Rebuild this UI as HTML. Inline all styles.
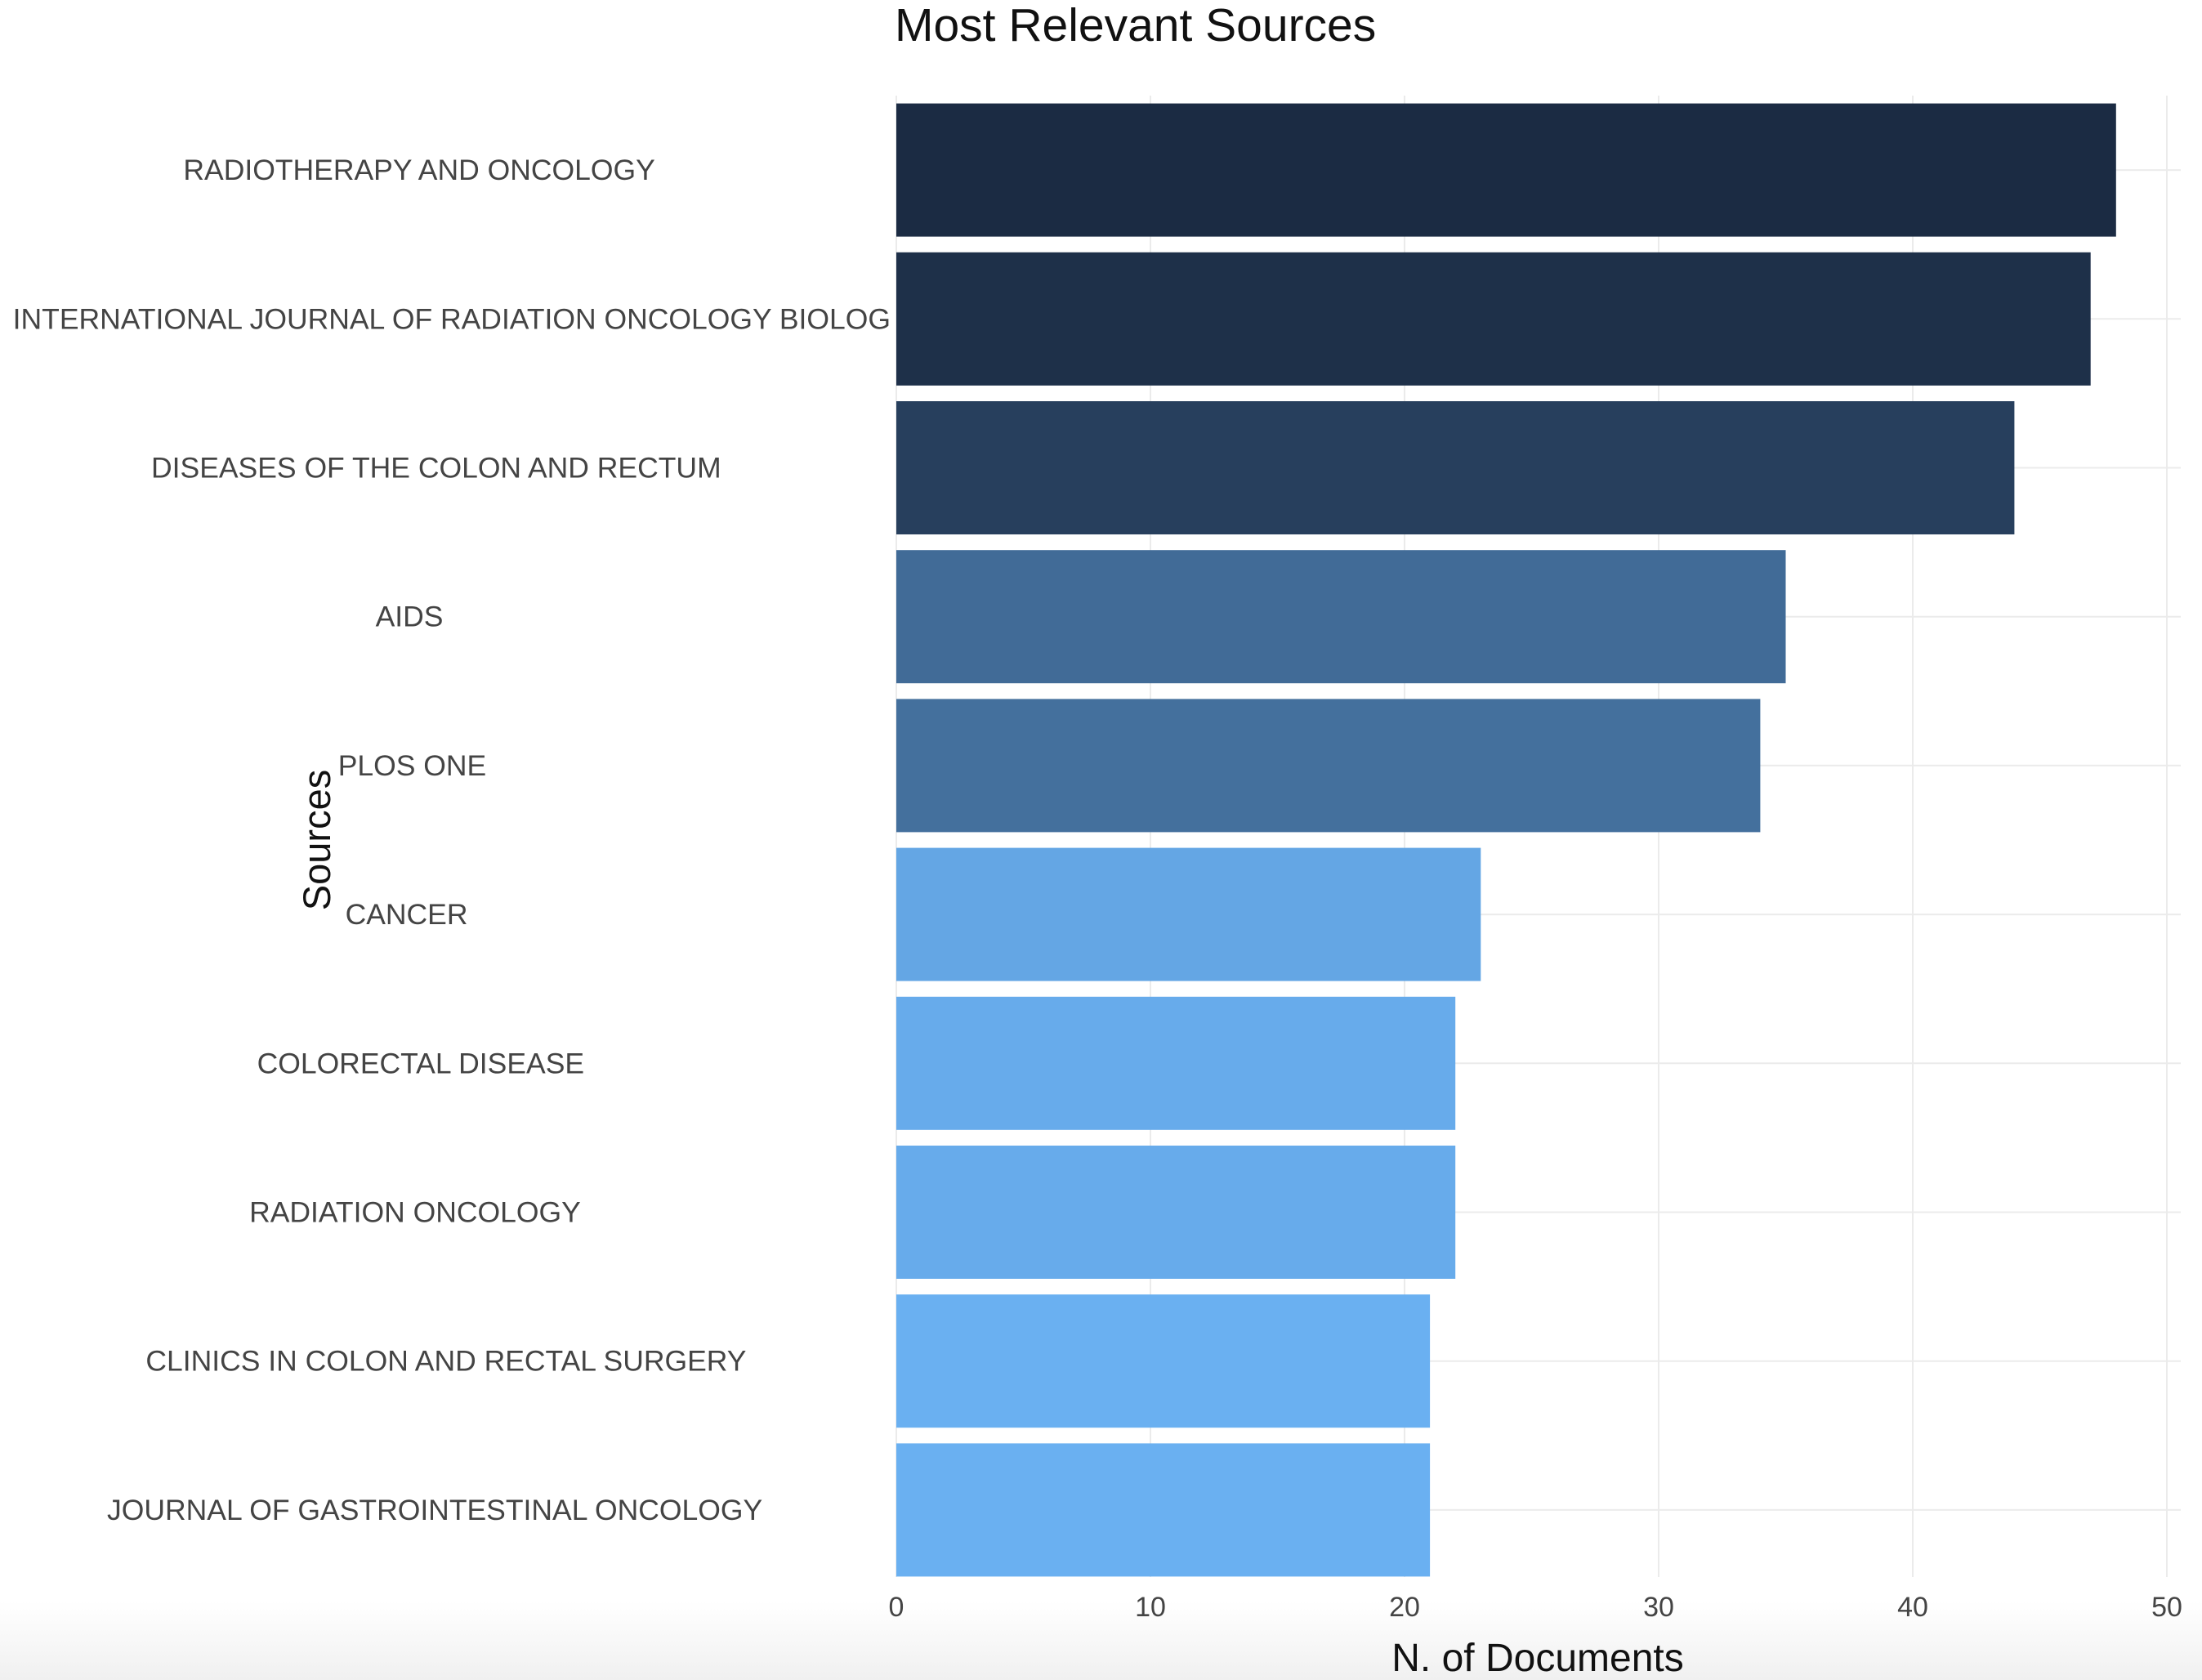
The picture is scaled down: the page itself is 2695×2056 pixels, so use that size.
<!DOCTYPE html>
<html><head><meta charset="utf-8"><style>
html,body{margin:0;padding:0;background:#fff;width:2695px;height:2056px;overflow:hidden}
svg text{font-family:"Liberation Sans",sans-serif}
</style></head><body>
<svg id="chart" width="2695" height="2056" viewBox="0 0 2695 2056" xmlns="http://www.w3.org/2000/svg">
<defs><linearGradient id="btm" x1="0" y1="0" x2="0" y2="1"><stop offset="0" stop-color="#fff"/><stop offset="1" stop-color="#f0f0f0"/></linearGradient></defs>
<rect x="0" y="1960" width="2695" height="96" fill="url(#btm)"/>
<text x="1095" y="50" font-size="57" fill="#111">Most Relevant Sources</text>
<g id="grid"></g><g id="bars"></g><g id="ylabels"></g><g id="xticks"></g>
<text x="1882" y="2045" font-size="48" text-anchor="middle" fill="#111">N. of Documents</text>
<text transform="translate(404,1028) rotate(-90)" font-size="47" text-anchor="middle" fill="#111">Sources</text>
</svg>
<script>
const categories=["RADIOTHERAPY AND ONCOLOGY","INTERNATIONAL JOURNAL OF RADIATION ONCOLOGY BIOLOG","DISEASES OF THE COLON AND RECTUM","AIDS","PLOS ONE","CANCER","COLORECTAL DISEASE","RADIATION ONCOLOGY","CLINICS IN COLON AND RECTAL SURGERY","JOURNAL OF GASTROINTESTINAL ONCOLOGY"];
const values=[48,47,44,35,34,23,22,22,21,21];
const xTicks=[0,10,20,30,40,50];
const labelCenters=[297,320,309,290,292,288,298,294,316,308];
const NS="http://www.w3.org/2000/svg";
const x0=1097,x50=2652,plotTop=117,rowH=182.2,barH=163;
function xs(v){return x0+(x50-x0)*v/50;}
function ys(i){return plotTop+i*rowH+rowH/2;}
function mk(t,a,p){const e=document.createElementNS(NS,t);for(const k in a)e.setAttribute(k,a[k]);p.appendChild(e);return e;}
const vmin=Math.min(...values),vmax=Math.max(...values);
const c1=[0x6a,0xb0,0xf1],c2=[0x1b,0x2b,0x43];
function col(v){const t=(v-vmin)/(vmax-vmin||1);return "rgb("+c1.map((c,i)=>Math.round(c+(c2[i]-c)*t)).join(",")+")";}
const grid=document.getElementById('grid'),bars=document.getElementById('bars'),yl=document.getElementById('ylabels'),xt=document.getElementById('xticks');
xTicks.forEach(t=>{
 const l=mk('line',{x1:xs(t),x2:xs(t),y1:117,y2:1930,stroke:'#ebebeb','stroke-width':2},grid);
 
 
 const tx=mk('text',{x:xs(t),y:1978,'font-size':34,'text-anchor':'middle',fill:'#444'},xt);
 tx.textContent=t;
 
 
});
categories.forEach((c,i)=>{
 const g=mk('line',{x1:x0,x2:2669,y1:ys(i),y2:ys(i),stroke:'#ebebeb','stroke-width':2},grid);
 
 
 const r=mk('rect',{x:x0,y:ys(i)-barH/2,width:xs(values[i])-x0,height:barH,fill:col(values[i])},bars);
 
 
 const t=mk('text',{x:labelCenters[i]*1.7276,y:ys(i)+12,'font-size':35.5,'text-anchor':'middle',fill:'#444'},yl);
 t.textContent=c;
 
 
});
</script>
</body></html>
